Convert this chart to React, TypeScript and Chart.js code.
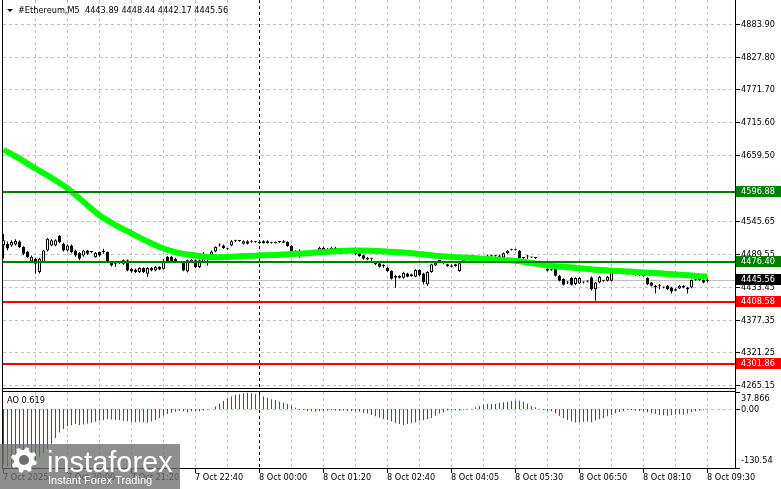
import React, { useEffect, useRef } from "react";
import { Chart, registerables } from "chart.js";

Chart.register(...registerables);

// ---------------- data ----------------
const symbolName = "#Ethereum,M5";
const lastBarOHLC = ["4443.89", "4448.44", "4442.17", "4445.56"];
const timeLabels = [
  "7 Oct 2025", "7 Oct 20:00", "7 Oct 21:20", "7 Oct 22:40", "8 Oct 00:00", "8 Oct 01:20",
  "8 Oct 02:40", "8 Oct 04:05", "8 Oct 05:30", "8 Oct 06:50", "8 Oct 08:10", "8 Oct 09:30",
];
const dayBreakBar = 64;
const priceTicks = [4883.9, 4827.8, 4771.7, 4715.6, 4659.5, 4545.65, 4489.55, 4433.45, 4377.35, 4321.25, 4265.15];
const greenLevels = [4596.88, 4476.4];
const redLevels = [4408.58, 4301.86];
const currentPrice = 4445.56;
const aoMin = -130.54;
const aoMax = 37.866;
const aoCurrent = "0.619";

// [open, high, low, close]
const candles: number[][] = [
  [4506, 4525, 4483, 4514], [4508, 4512, 4497, 4500], [4505, 4514, 4503, 4511], [4507, 4516, 4505, 4513],
  [4512, 4514, 4501, 4502.5], [4502.5, 4504, 4489, 4491], [4494, 4496, 4484, 4485.3], [4478, 4488, 4476, 4486],
  [4482.4, 4484, 4456.7, 4473.8], [4459.5, 4484, 4457, 4482.4], [4476.7, 4498, 4475, 4496.7], [4496.7, 4518, 4495, 4516.7],
  [4505.3, 4516, 4504, 4513.9], [4505.3, 4516, 4504, 4514], [4521.3, 4523, 4509, 4511], [4508.2, 4510, 4495, 4496.7],
  [4496.7, 4507, 4495, 4505.3], [4505.3, 4507, 4492, 4493.9], [4496.7, 4498, 4486, 4488.1], [4492.7, 4494, 4479.6, 4482.4],
  [4488.1, 4498, 4486, 4496.7], [4496.7, 4498, 4489, 4491], [4493.9, 4495, 4492, 4493.9], [4485.3, 4494, 4484, 4492.7],
  [4493.9, 4495, 4486, 4488.1], [4493.9, 4499.6, 4491, 4493.9], [4493.9, 4495, 4475, 4476.7], [4476.7, 4478, 4469, 4471],
  [4473.8, 4476.7, 4468.1, 4473.8], [4475, 4476.5, 4473.5, 4475], [4473.8, 4481, 4472, 4479.6], [4479.6, 4481, 4461, 4462.4],
  [4465.3, 4467, 4459, 4460.7], [4464, 4465.5, 4458, 4459.5], [4459.5, 4468, 4458, 4466.4], [4466.4, 4468, 4458, 4459.5],
  [4456.7, 4468, 4451, 4466.4], [4466.4, 4468, 4461, 4462.4], [4462.4, 4470, 4461, 4468.1], [4468.1, 4469.5, 4462.5, 4464.1],
  [4465.3, 4482, 4464, 4476.7], [4485.3, 4487, 4475, 4476.7], [4485.3, 4487, 4475, 4476.7], [4482.4, 4484, 4475, 4476.7],
  [4476.7, 4478, 4475, 4476.7], [4476.7, 4478, 4461, 4462.4], [4460.7, 4481, 4459, 4479.6], [4476.7, 4482, 4475, 4480.7],
  [4479.6, 4481, 4466.5, 4468.1], [4468.1, 4481, 4466.5, 4479.6], [4476.7, 4493.9, 4475, 4491], [4479.6, 4482.4, 4471, 4479.6],
  [4488.1, 4496.5, 4486.5, 4495], [4495, 4504, 4493.5, 4502.5], [4505.3, 4509, 4503.5, 4505.3], [4505.3, 4507, 4499, 4500.7],
  [4499.6, 4501, 4498, 4499.6], [4505.3, 4514, 4504, 4512.2], [4512.2, 4515, 4511, 4512.2], [4512.7, 4514, 4511.5, 4512.7],
  [4508.2, 4514, 4507, 4512.2], [4512.2, 4514, 4507, 4508.2], [4511.5, 4514, 4510, 4512.5], [4511.5, 4513, 4510, 4511.5],
  [4511.5, 4513, 4508, 4509], [4509.5, 4514, 4508.5, 4512.5], [4512.5, 4514, 4508.5, 4509.5], [4510, 4511.5, 4508.5, 4510],
  [4511, 4512, 4508.5, 4509.5], [4511, 4512.5, 4510, 4511], [4512.5, 4514, 4509, 4510], [4511, 4512, 4503, 4504.2],
  [4504.2, 4505.5, 4494, 4495.6], [4495.6, 4497, 4487, 4493.9], [4494, 4498.5, 4484.2, 4494], [4493, 4494.5, 4488.5, 4490],
  [4490, 4492.5, 4488.5, 4491], [4491, 4493.5, 4489.5, 4492], [4493, 4497.5, 4491.5, 4496], [4493.9, 4503, 4492.5, 4501.4],
  [4501.4, 4503, 4496, 4497.4], [4495.6, 4501, 4494.5, 4499.6], [4497.4, 4503, 4496, 4501.4], [4501.4, 4503, 4496, 4497.4],
  [4498.5, 4500, 4497, 4498.5], [4499.6, 4501, 4498, 4499.6], [4497, 4498.5, 4495.5, 4497], [4495.6, 4497, 4494, 4495.6],
  [4495.6, 4497, 4488.5, 4489.9], [4491.6, 4493, 4486, 4487.1], [4488.2, 4489.5, 4481, 4482.5], [4484.2, 4485.5, 4480, 4481.3],
  [4482.5, 4484, 4478.5, 4482.5], [4476.8, 4478, 4471.5, 4472.8], [4474.5, 4476, 4467.5, 4468.8], [4469.9, 4472.8, 4467, 4469.9],
  [4467, 4468.5, 4460, 4461.3], [4461.3, 4462.5, 4447, 4448.2], [4452.7, 4454, 4432.7, 4449.9], [4449.9, 4454, 4448.5, 4452.7],
  [4449.9, 4460, 4448.5, 4458.5], [4457.3, 4458.5, 4450.5, 4451.6], [4455.6, 4457, 4451.5, 4452.7], [4451.6, 4464.5, 4450.5, 4463],
  [4463, 4464.5, 4452.5, 4453.9], [4457.3, 4458.5, 4438.4, 4442.4], [4438.4, 4461, 4435.6, 4459.6], [4459.6, 4474, 4458.5, 4472.8],
  [4471, 4477, 4470, 4475.6], [4478.5, 4480, 4477, 4478.5], [4475.6, 4478.5, 4472.8, 4475.6], [4472.8, 4474, 4468.5, 4469.9],
  [4468.8, 4472.5, 4467.5, 4471], [4469.9, 4474, 4468.5, 4472.8], [4461.3, 4476, 4460, 4474.5], [4476, 4482.5, 4475, 4481],
  [4484, 4485.5, 4482.5, 4484], [4484.5, 4486, 4483, 4484.5], [4484, 4485.5, 4482.5, 4484], [4484.5, 4486, 4483, 4484.5],
  [4485, 4486.5, 4483.5, 4485], [4484, 4489.5, 4483, 4488], [4487.6, 4489, 4486, 4487.6], [4487.6, 4489, 4486, 4487.6],
  [4486, 4489.5, 4485, 4488], [4484.7, 4493, 4483.5, 4491.6], [4491.6, 4497.5, 4490.5, 4496.1], [4497.9, 4499.5, 4496.5, 4497.9],
  [4497.9, 4499.5, 4496.5, 4497.9], [4496.1, 4497.5, 4482.5, 4483.6], [4483.6, 4485, 4482, 4483.6], [4486.4, 4489, 4481.8, 4486.4],
  [4484.7, 4486, 4483.5, 4484.7], [4483.6, 4485, 4482, 4483.6], [4477.8, 4479, 4473, 4474.4], [4471.5, 4473, 4466.5, 4467.5],
  [4464.7, 4466, 4460.5, 4461.8], [4463.5, 4465, 4462, 4463.5], [4464.7, 4466, 4452, 4453.2], [4453.2, 4454.5, 4443.5, 4444.6],
  [4447.5, 4449, 4436.5, 4437.8], [4441.8, 4444, 4439, 4441.8], [4449.2, 4450.5, 4436.5, 4437.8], [4438.9, 4450.5, 4437.5, 4449.2],
  [4440, 4450.5, 4439, 4449.2], [4441.8, 4443.5, 4440, 4441.8], [4443.5, 4445, 4442, 4443.5], [4450.4, 4452, 4428, 4430.3],
  [4430.3, 4443, 4410.3, 4441.8], [4441.8, 4453, 4440.5, 4451.5], [4444.6, 4446, 4443, 4444.6], [4444.6, 4453, 4443.5, 4451.5],
  [4444.6, 4462, 4443.5, 4460.7], [4460.7, 4462, 4459.5, 4460.7], [4460.7, 4462, 4459.5, 4460.7], [4459, 4462, 4456, 4459],
  [4459, 4460.5, 4455, 4456.1], [4457.8, 4459, 4456.5, 4457.8], [4457.8, 4459, 4453.5, 4454.9], [4457.8, 4459, 4453, 4454.4],
  [4456.1, 4457.5, 4452, 4453.2], [4449.2, 4450.5, 4437.5, 4438.9], [4441.8, 4443, 4435, 4436.1], [4436.1, 4437.5, 4422.9, 4433.2],
  [4436.1, 4438.9, 4430.3, 4436.1], [4433.2, 4434.5, 4432, 4433.2], [4436.1, 4437.5, 4429, 4430.3], [4433.2, 4434.5, 4422.9, 4426.3],
  [4430.3, 4431.5, 4426.5, 4427.5], [4431.5, 4437.5, 4430.5, 4436.1], [4436.1, 4437.5, 4432, 4433.2], [4433.2, 4434.5, 4422.9, 4430.3],
  [4433.2, 4447, 4432, 4445.8], [4446.4, 4447.5, 4445, 4446.4], [4445.8, 4447, 4444.5, 4445.8], [4445.8, 4447, 4440.5, 4441.8],
  [4443.89, 4448.44, 4442.17, 4445.56],
];

// moving average, read every 4th bar
const maStep = 4;
const maValues = [
  4669, 4654, 4637, 4621, 4603, 4580, 4557, 4540, 4526, 4512, 4500, 4492, 4488, 4485, 4485.5,
  4487, 4488, 4489, 4490.5, 4492, 4494, 4495.5, 4496.5, 4496, 4494.5, 4493, 4490.5, 4487.5, 4485.5,
  4484, 4482.5, 4480.5, 4479, 4475, 4471, 4468.5, 4466, 4463.5, 4462, 4460.5, 4459, 4457.5, 4455.5,
  4453.5, 4451.5,
];

const aoValues = [
  -122, -126, -129, -130.54, -128, -125, -121, -117, -112, -106, -98, -88, -77, -64, -52, -44,
  -38, -35, -33, -35, -34, -32, -30, -28, -26, -24, -22, -23, -24, -25, -26, -27,
  -28, -29, -28, -29, -30, -27, -24, -20, -15, -11, -8, -6, -4, -5, -7, -5,
  -4, -5, -3, -1, 1, 6, 12, 18, 24, 28, 31, 33, 35, 36, 35, 33,
  31, 28, 25, 22, 20, 17, 14, 11, 8, 3, -1, -2, -4, -5, -6, -5,
  -4, -3, -2, -3, -3.5, -3, -4, -4.5, -5, -6, -8, -10, -13, -16, -19, -22,
  -24, -27, -31, -33, -35, -33, -31, -29, -26, -24, -22, -20, -15, -10, -7, -3,
  -2, -2.5, -3, -1.5, -0.5, 1, 4, 7, 10, 11, 11.5, 12, 13.5, 15, 16.5, 18,
  19, 18.5, 16, 12, 7, 4, 0.5, -2, -3, -5, -9, -15, -20, -24, -27, -29.5,
  -29, -28, -27.5, -29, -25, -22, -20, -16, -13, -9, -6.5, -4, -1.5, -2, -3, -4,
  -5, -7, -9, -11, -13, -13.5, -15, -13, -12.5, -11, -12.5, -9.5, -7, -5, -3, -1.5,
  0.619,
];

// ---------------- layout constants ----------------
const W = 781;
const H = 489;
const PLOT_L = 3;
const PLOT_R = 735;
const PLOT_T = 4;
const PLOT_B = 468;
const MAIN_BOTTOM = 388;
const AO_TOP = 392;
const FONT = "8.2px 'DejaVu Sans', Verdana, sans-serif";

function hline(ctx: CanvasRenderingContext2D, x1: number, x2: number, yy: number) {
  ctx.beginPath();
  ctx.moveTo(x1, yy);
  ctx.lineTo(x2, yy);
  ctx.stroke();
}
function vline(ctx: CanvasRenderingContext2D, xx: number, y1: number, y2: number) {
  ctx.beginPath();
  ctx.moveTo(xx, y1);
  ctx.lineTo(xx, y2);
  ctx.stroke();
}

function drawGear(ctx: CanvasRenderingContext2D, cx: number, cy: number) {
  const teeth = 8;
  const rOut = 13;
  const rIn = 10;
  ctx.beginPath();
  for (let k = 0; k < teeth; k++) {
    const a0 = (k / teeth) * Math.PI * 2;
    const w = (Math.PI * 2) / teeth;
    const pts = [
      [rIn, a0],
      [rOut, a0 + w * 0.2],
      [rOut, a0 + w * 0.5],
      [rIn, a0 + w * 0.7],
    ];
    pts.forEach(([r, a], j) => {
      const px = cx + r * Math.cos(a);
      const py = cy + r * Math.sin(a);
      if (k === 0 && j === 0) ctx.moveTo(px, py);
      else ctx.lineTo(px, py);
    });
  }
  ctx.closePath();
  ctx.fill();
}

const mt4Plugin = {
  id: "mt4look",
  beforeDraw(chart: any) {
    const ctx = chart.ctx as CanvasRenderingContext2D;
    ctx.save();
    ctx.fillStyle = "#ffffff";
    ctx.fillRect(0, 0, W, H);
    ctx.restore();
  },
  beforeDatasetsDraw(chart: any) {
    const ctx = chart.ctx as CanvasRenderingContext2D;
    const { x, y, yao } = chart.scales;
    ctx.save();
    ctx.lineWidth = 1;
    ctx.strokeStyle = "#c0c0c0";
    ctx.setLineDash([3, 3]);
    for (const p of priceTicks) {
      const py = Math.floor(y.getPixelForValue(p)) + 0.5;
      hline(ctx, PLOT_L, PLOT_R, py);
    }
    const zy = Math.floor(yao.getPixelForValue(0)) + 0.5;
    hline(ctx, PLOT_L, PLOT_R, zy);
    for (let i = 8; x.getPixelForValue(i) < PLOT_R; i += 8) {
      if (i === dayBreakBar) continue;
      const px = Math.floor(x.getPixelForValue(i)) + 0.5;
      vline(ctx, px, 0, MAIN_BOTTOM);
      vline(ctx, px, AO_TOP, PLOT_B);
    }
    ctx.strokeStyle = "#000000";
    const sx = Math.floor(x.getPixelForValue(dayBreakBar)) + 0.5;
    vline(ctx, sx, 0, MAIN_BOTTOM);
    vline(ctx, sx, AO_TOP, PLOT_B);
    ctx.setLineDash([]);
    ctx.strokeStyle = "#c0c0c0";
    const cy = Math.floor(y.getPixelForValue(currentPrice)) + 0.5;
    hline(ctx, PLOT_L, PLOT_R, cy);
    ctx.restore();
  },
  afterDatasetsDraw(chart: any) {
    const ctx = chart.ctx as CanvasRenderingContext2D;
    const { x, y, yao } = chart.scales;
    ctx.save();
    ctx.setLineDash([]);
    // horizontal levels
    ctx.lineWidth = 2;
    ctx.strokeStyle = "#008000";
    for (const p of greenLevels) hline(ctx, PLOT_L, PLOT_R, Math.round(y.getPixelForValue(p)));
    ctx.strokeStyle = "#ff0000";
    for (const p of redLevels) hline(ctx, PLOT_L, PLOT_R, Math.round(y.getPixelForValue(p)));

    // gap between panels
    ctx.fillStyle = "#ffffff";
    ctx.fillRect(PLOT_L, MAIN_BOTTOM + 1, PLOT_R - PLOT_L, AO_TOP - MAIN_BOTTOM - 1);

    // frames
    ctx.lineWidth = 1;
    ctx.strokeStyle = "#000000";
    vline(ctx, 2.5, 0, PLOT_B + 1);
    vline(ctx, PLOT_R + 0.5, 0, PLOT_B + 1);
    hline(ctx, 2, PLOT_R + 1, MAIN_BOTTOM + 0.5);
    hline(ctx, 2, PLOT_R + 1, AO_TOP - 0.5);
    hline(ctx, 2, PLOT_R + 1, PLOT_B + 0.5);

    // right axis labels
    ctx.font = FONT;
    ctx.textBaseline = "middle";
    ctx.textAlign = "left";
    ctx.fillStyle = "#000000";
    for (const p of priceTicks) {
      const py = Math.floor(y.getPixelForValue(p)) + 0.5;
      hline(ctx, PLOT_R + 1, PLOT_R + 5, py);
      ctx.fillText(p.toFixed(2), 741, py + 0.5);
    }
    // AO axis labels
    const aoLabels: [number, string][] = [
      [aoMax, aoMax.toFixed(3)],
      [0, "0.00"],
      [aoMin, aoMin.toFixed(2)],
    ];
    for (const [v, t] of aoLabels) {
      const py = Math.floor(yao.getPixelForValue(v)) + 0.5;
      const ly = Math.min(Math.max(py, AO_TOP + 7), PLOT_B - 7);
      hline(ctx, PLOT_R + 1, PLOT_R + 5, py);
      ctx.fillText(t, 741, ly);
    }

    // level boxes
    const boxes: [number, string][] = [
      ...greenLevels.map((p) => [p, "#008000"] as [number, string]),
      [currentPrice, "#000000"],
      ...redLevels.map((p) => [p, "#ff0000"] as [number, string]),
    ];
    for (const [p, c] of boxes) {
      const py = Math.round(y.getPixelForValue(p));
      ctx.fillStyle = c;
      ctx.fillRect(PLOT_R + 1, py - 6, W - PLOT_R - 1, 11);
      ctx.fillStyle = "#ffffff";
      ctx.fillText(p.toFixed(2), 741, py);
    }

    // time axis
    ctx.fillStyle = "#000000";
    ctx.strokeStyle = "#000000";
    timeLabels.forEach((t, k) => {
      const px = Math.floor(x.getPixelForValue(k * 16)) + 0.5;
      vline(ctx, px, PLOT_B + 1, PLOT_B + 5);
      ctx.fillText(t, px - 0.5, 478);
    });

    // header
    ctx.beginPath();
    ctx.moveTo(7, 9);
    ctx.lineTo(13, 9);
    ctx.lineTo(10, 12);
    ctx.closePath();
    ctx.fill();
    ctx.fillText(symbolName + "  " + lastBarOHLC.join(" "), 18, 11);

    // AO label
    ctx.fillText("AO " + aoCurrent, 7, 401);

    // watermark
    ctx.fillStyle = "rgba(110,110,110,0.78)";
    ctx.fillRect(0, 444, 180, 45);
    ctx.fillStyle = "#ffffff";
    drawGear(ctx, 24, 460);
    ctx.fillStyle = "rgba(110,110,110,1)";
    ctx.beginPath();
    ctx.arc(24, 460, 5, 0, Math.PI * 2);
    ctx.fill();
    ctx.fillStyle = "#ffffff";
    ctx.textBaseline = "alphabetic";
    ctx.font = "29px 'Liberation Sans', Arial, sans-serif";
    ctx.fillText("instaforex", 47, 472);
    ctx.font = "11px 'Liberation Sans', Arial, sans-serif";
    ctx.fillText("Instant Forex Trading", 48, 484);
    ctx.restore();
  },
};

export default function App() {
  const ref = useRef<HTMLCanvasElement | null>(null);
  useEffect(() => {
    if (!ref.current) return;
    const xMin = -0.125;
    const xMax = xMin + (PLOT_R - PLOT_L) / 4;
    const pxPerPrice = 0.5834;
    const yMax = 4883.9 + (24.5 - PLOT_T) / pxPerPrice;
    const yMin = yMax - (PLOT_B - PLOT_T) / pxPerPrice;
    const aoPx = (PLOT_B - AO_TOP) / (aoMax - aoMin);
    const aoTopVal = aoMin + (PLOT_B - PLOT_T) / aoPx;

    const chart = new Chart(ref.current, {
      type: "bar",
      data: {
        datasets: [
          {
            type: "line",
            label: "MA",
            data: maValues.map((v, k) => ({ x: k * maStep, y: v })),
            borderColor: "#00ff00",
            borderWidth: 6,
            pointRadius: 0,
            cubicInterpolationMode: "monotone",
            xAxisID: "x",
            yAxisID: "y",
            order: 1,
          } as any,
          {
            type: "bar",
            label: "bodies",
            data: candles.map((c, i) => ({ x: i, y: [c[0], c[3]] })),
            backgroundColor: candles.map((c) => (c[3] >= c[0] ? "#ffffff" : "#000000")),
            borderColor: "#000000",
            borderWidth: 1,
            borderSkipped: false,
            barThickness: 3,
            minBarLength: 1,
            grouped: false,
            inflateAmount: 0,
            xAxisID: "x",
            yAxisID: "y",
            order: 2,
          } as any,
          {
            type: "bar",
            label: "wicks",
            data: candles.map((c, i) => ({ x: i, y: [c[2], c[1]] })),
            backgroundColor: "#000000",
            borderWidth: 0,
            barThickness: 1,
            grouped: false,
            inflateAmount: 0,
            xAxisID: "x",
            yAxisID: "y",
            order: 3,
          } as any,
          {
            type: "bar",
            label: "AO",
            data: aoValues.map((v, i) => ({ x: i, y: v })),
            backgroundColor: aoValues.map((v, i) => (i === 0 || v < aoValues[i - 1] ? "#ff0000" : "#008000")),
            borderWidth: 0,
            barThickness: 1,
            grouped: false,
            inflateAmount: 0,
            xAxisID: "x",
            yAxisID: "yao",
            order: 4,
          } as any,
        ],
      },
      options: {
        responsive: false,
        animation: false,
        devicePixelRatio: 1,
        events: [],
        layout: { padding: { left: PLOT_L, right: W - PLOT_R, top: PLOT_T, bottom: H - PLOT_B } },
        plugins: { legend: { display: false }, tooltip: { enabled: false } },
        scales: {
          x: { type: "linear", min: xMin, max: xMax, display: false, offset: false },
          y: { type: "linear", min: yMin, max: yMax, display: false },
          yao: { type: "linear", min: aoMin, max: aoTopVal, display: false },
        },
      } as any,
      plugins: [mt4Plugin],
    });
    return () => chart.destroy();
  }, []);
  return (
    <div style={{ position: "absolute", left: 0, top: 0, width: W, height: H }}>
      <canvas ref={ref} width={W} height={H} style={{ display: "block", width: W, height: H }} />
    </div>
  );
}
